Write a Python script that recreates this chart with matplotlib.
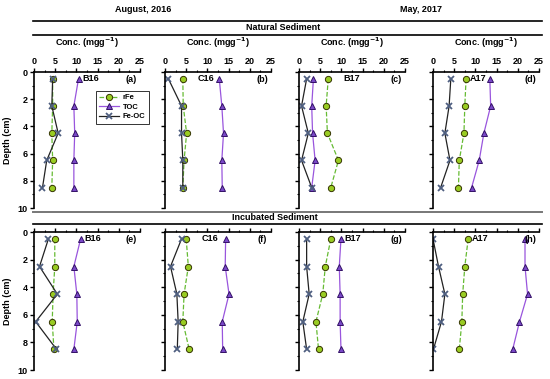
import matplotlib
matplotlib.use('Agg')
import matplotlib.pyplot as plt
from matplotlib.lines import Line2D
from matplotlib.ticker import MultipleLocator

plt.rcParams['font.family'] = ['Liberation Sans', 'DejaVu Sans']
plt.rcParams['font.weight'] = 'bold'

depth = [0.5, 2.5, 4.5, 6.5, 8.5]
sites = ['B16', 'C16', 'B17', 'A17']
letters_nat = ['(a)', '(b)', '(c)', '(d)']
letters_inc = ['(e)', '(f)', '(g)', '(h)']

# natural sediment
rfe_nat = [[4.4, 4.4, 4.2, 4.4, 4.2],
           [4.2, 4.3, 5.1, 4.5, 4.2],
           [6.9, 6.4, 6.7, 9.3, 7.5],
           [7.8, 7.5, 7.3, 6.2, 6.0]]
toc_nat = [[10.5, 9.4, 9.6, 9.4, 9.4],
           [12.8, 13.4, 13.8, 13.4, 13.5],
           [3.4, 3.0, 3.2, 3.8, 3.0],
           [13.4, 13.6, 12.0, 10.9, 9.1]]
feoc_nat = [[4.4, 4.2, 5.7, 3.0, 2.0],
            [0.8, 3.9, 3.9, 4.2, 4.2],
            [1.8, 0.6, 2.2, 0.6, 3.0],
            [4.2, 3.8, 2.8, 4.0, 1.8]]

# incubated sediment
rfe_inc = [[4.9, 4.9, 4.5, 4.3, 4.7],
           [5.0, 5.5, 4.5, 4.2, 5.7],
           [7.5, 6.2, 5.6, 4.0, 4.6],
           [8.3, 7.5, 7.0, 6.8, 6.2]]
toc_inc = [[11.0, 9.4, 10.1, 10.2, 9.4],
           [14.3, 14.2, 15.1, 13.5, 13.6],
           [9.9, 9.5, 9.7, 9.7, 9.9],
           [21.7, 21.7, 22.3, 20.4, 18.8]]
feoc_inc = [[3.4, 1.3, 5.5, 0.4, 5.3],
            [3.9, 1.3, 2.8, 3.1, 2.9],
            [1.8, 1.8, 2.4, 0.9, 1.8],
            [0.0, 1.3, 2.8, 2.0, 0.1]]

W, H = 550, 379
fig = plt.figure(figsize=(5.5, 3.79), dpi=100)

lefts = [34, 165, 299, 433]
pw = 106
rows = [(72, 208), (232, 370)]

c_rfe = '#99cc22'
c_toc = '#7a48c8'
c_feoc = '#4f5f80'

fs = 6.5


def draw_panel(ax, rfe, toc, feoc, site, letter, label_pos, top_labels, ylabels):
    ax.plot(rfe, depth, ls='--', color='#66bb33', lw=0.9, marker='o', ms=4.5,
            mfc=c_rfe, mec='#333300', mew=0.7, label='rFe')
    ax.plot(toc, depth, ls='-', color='#9955dd', lw=0.9, marker='^', ms=4.5,
            mfc=c_toc, mec='#331166', mew=0.7, label='TOC')
    ax.plot(feoc, depth, ls='-', color='#222222', lw=0.9, marker='x', ms=4.5,
            mec=c_feoc, mew=1.3, label='Fe-OC')
    ax.set_xlim(0, 25)
    ax.set_ylim(10, 0)
    ax.xaxis.tick_top()
    ax.xaxis.set_major_locator(MultipleLocator(5))
    ax.xaxis.set_minor_locator(MultipleLocator(2.5))
    ax.yaxis.set_major_locator(MultipleLocator(2))
    ax.yaxis.set_minor_locator(MultipleLocator(1))
    for s in ['bottom', 'right']:
        ax.spines[s].set_visible(False)
    for s in ['top', 'left']:
        ax.spines[s].set_linewidth(1.2)
    ax.tick_params(which='major', direction='out', length=3, width=1, labelsize=fs, pad=1.5)
    ax.tick_params(which='minor', direction='out', length=1.8, width=0.8)
    ax.tick_params(axis='x', labeltop=top_labels, labelbottom=False)
    ax.tick_params(axis='y', labelleft=ylabels)
    for t in ax.get_xticklabels() + ax.get_yticklabels():
        t.set_fontweight('bold')
    if ylabels:
        ax.set_ylabel('Depth (cm)', fontsize=fs, fontweight='bold', labelpad=4)
    x, ha = label_pos
    ax.text(x, 0.5, site, fontsize=fs, fontweight='bold', ha=ha, va='center')
    ax.text(23, 0.55, letter, fontsize=fs, fontweight='bold', ha='center', va='center')


for r, (rfes, tocs, feocs, letters) in enumerate([(rfe_nat, toc_nat, feoc_nat, letters_nat),
                                                   (rfe_inc, toc_inc, feoc_inc, letters_inc)]):
    top, bot = rows[r]
    for i in range(4):
        ax = fig.add_axes([lefts[i] / W, 1 - bot / H, pw / W, (bot - top) / H])
        rfe, toc = rfes[i], tocs[i]
        if r == 0:
            lp = [(toc[0] + 1.0, 'left'), (toc[0] - 1.2, 'right'), (10.4, 'left'),
                  (rfe[0] + 0.8, 'left')][i]
        else:
            lp = [(toc[0] + 0.8, 'left'), (toc[0] - 1.8, 'right'), (toc[0] + 0.8, 'left'),
                  (rfe[0] + 0.8, 'left')][i]
        draw_panel(ax, rfe, toc, feocs[i], sites[i], letters[i], lp, r == 0, i == 0)
        if r == 0:
            ax.set_title('Conc. (mgg$^{\\mathbf{-1}}$)', fontsize=fs, fontweight='bold', pad=8)
        if r == 0 and i == 0:
            leg = ax.legend(loc='upper left', bbox_to_anchor=(0.55, 0.89), fontsize=5.5,
                            frameon=True, fancybox=False, edgecolor='black',
                            borderpad=0.4, handlelength=2.6, labelspacing=0.3,
                            handletextpad=0.5)
            leg.get_frame().set_linewidth(0.7)


def hline(y, x0=33, x1=542, color='black', lw=1.2):
    fig.add_artist(Line2D([x0 / W, x1 / W], [1 - y / H, 1 - y / H],
                          transform=fig.transFigure, color=color, lw=lw))


hline(21)
hline(35)
hline(212, color='#777777', lw=1.4)
hline(224)

fig.text(143 / W, 1 - 10 / H, 'August, 2016', fontsize=fs, fontweight='bold', ha='center', va='center')
fig.text(421 / W, 1 - 9 / H, 'May, 2017', fontsize=fs, fontweight='bold', ha='center', va='center')
fig.text(283 / W, 1 - 28 / H, 'Natural Sediment', fontsize=fs, fontweight='bold', ha='center', va='center')
fig.text(275 / W, 1 - 218 / H, 'Incubated Sediment', fontsize=fs, fontweight='bold', ha='center', va='center')

plt.savefig('out.png', dpi=100)
plt.close()
